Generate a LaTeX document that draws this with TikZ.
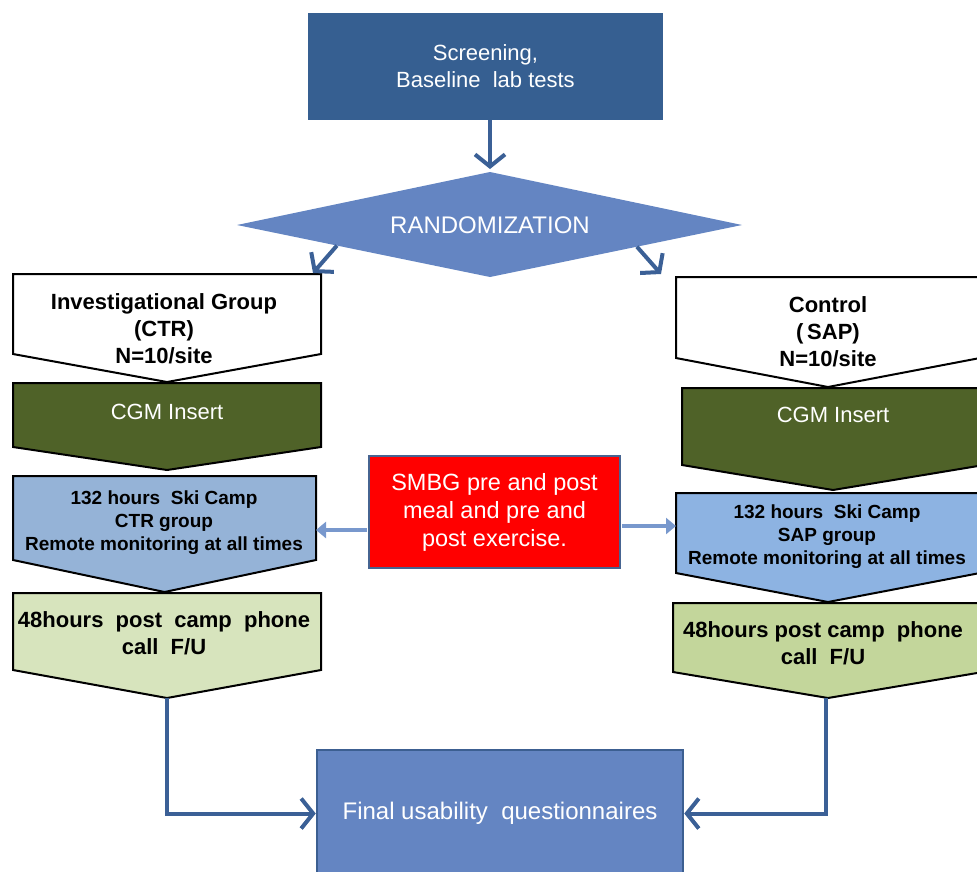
\documentclass[tikz,border=0pt]{standalone}
\usepackage{fontspec}
\setmainfont{Liberation Sans}
\usetikzlibrary{arrows.meta,calc}
\definecolor{topblue}{RGB}{54,95,145}
\definecolor{midblue}{RGB}{100,133,194}
\definecolor{edgeblue}{RGB}{60,95,145}
\definecolor{arrowblue}{RGB}{59,96,150}
\definecolor{thinblue}{RGB}{120,152,205}
\definecolor{olive}{RGB}{79,98,40}
\definecolor{campL}{RGB}{149,179,215}
\definecolor{campR}{RGB}{141,179,226}
\definecolor{greenL}{RGB}{215,228,189}
\definecolor{greenR}{RGB}{195,214,155}
\definecolor{redbox}{RGB}{255,0,0}
\definecolor{rededge}{RGB}{70,100,145}
\tikzset{
  chev/.style={draw=black, line width=2pt, line join=miter},
  bigtxt/.style={align=center, inner sep=0pt, font=\fontsize{22}{27}\selectfont},
  boldtxt/.style={align=center, inner sep=0pt, text=black, font=\fontsize{22}{27}\selectfont\bfseries},
  camptxt/.style={align=center, inner sep=0pt, text=black, font=\fontsize{19}{23}\selectfont\bfseries},
  conn/.style={draw=arrowblue, line width=4pt, -{Straight Barb[length=12pt,width=30pt]}},
  thinconn/.style={draw=thinblue, line width=4pt, -{Triangle[length=10pt,width=16pt]}}
}
% name, x1, x2, top, rectangle bottom, tip, fill
\newcommand\chevshape[7]{%
  \draw[chev, fill=#7] (#2,#4) -- (#3,#4) -- (#3,#5) -- ({(#2+#3)/2},#6) -- (#2,#5) -- cycle;
  \coordinate (#1-tip) at ({(#2+#3)/2},#6);
  \coordinate (#1-e) at (#3,{(#4+#5)/2});
  \coordinate (#1-w) at (#2,{(#4+#5)/2});
  \coordinate (#1-ne) at (#3,#4);
  \coordinate (#1-nw) at (#2,#4);
}
\begin{document}
\begin{tikzpicture}[x=1pt,y=-1pt]
\useasboundingbox (0,0) rectangle (977,871);

% top box
\node[bigtxt, fill=topblue, text=white, minimum width=355pt, minimum height=107pt] (screen) at (485.5,66.5)
  {Screening,\\Baseline\ \ lab tests};

% diamond
\coordinate (rand-w) at (237,225);
\coordinate (rand-n) at (490,172);
\coordinate (rand-e) at (742,225);
\coordinate (rand-s) at (490,277);
\fill[midblue] (rand-w) -- (rand-n) -- (rand-e) -- (rand-s) -- cycle;
\node[bigtxt, text=white, font=\fontsize{24}{28}\selectfont] (rand) at (490,225) {RANDOMIZATION};

\draw[conn, shorten >=3pt] (screen.south -| rand-n) -- (rand-n);

% left column
\chevshape{inv}{13}{321}{274}{354}{382}{white}
\node[boldtxt] (invt) at (164,329) {Investigational Group\\(CTR)\\N=10/site};
\chevshape{cgmL}{13}{321}{383}{447}{470}{olive}
\node[bigtxt, text=white] (cgmLt) at (167,412) {CGM Insert};
\chevshape{campL}{13}{316}{476}{560}{592}{campL}
\node[camptxt] (campLt) at (164,523) {132 hours\ \ Ski Camp\\CTR group\\Remote monitoring at all times};
\chevshape{phoneL}{13}{321}{593}{670}{698}{greenL}
\node[boldtxt] (phoneLt) at (164,633) {48hours\ \ post\ \ camp\ \ phone\\call\ \ F/U};

% right column
\chevshape{ctl}{676}{980}{277}{358}{387}{white}
\node[boldtxt] (ctlt) at (828,332) {Control\\(\,SAP)\\N=10/site};
\chevshape{cgmR}{682}{984}{388}{465}{490}{olive}
\node[bigtxt, text=white] (cgmRt) at (833,415) {CGM Insert};
\chevshape{campR}{676}{980}{493}{573}{602}{campR}
\node[camptxt] (campRt) at (827,537) {132 hours\ \ Ski Camp\\SAP group\\Remote monitoring at all times};
\chevshape{phoneR}{673}{983}{603}{672}{698}{greenR}
\node[boldtxt] (phoneRt) at (823,643) {48hours post camp\ \ phone\\call\ \ F/U};

% diamond to groups
\coordinate (invarr) at (313,273);
\coordinate (ctlarr) at (661,274);
\draw[conn] ($(rand-w)!0.395!(rand-s)$) -- (invarr);
\draw[conn] ($(rand-e)!0.417!(rand-s)$) -- (ctlarr);

% red box
\node[bigtxt, font=\fontsize{23.5}{28}\selectfont, fill=redbox, draw=rededge, line width=2pt, text=white, minimum width=251pt, minimum height=112pt] (red) at (494.5,512)
  {SMBG pre and post\\meal and pre and\\post exercise.};
\coordinate (redl) at ($(red.west)+(-1,18)$);
\coordinate (redr) at ($(red.east)+(1,14)$);
\draw[thinconn] (redl) -- (redl -| campL-e);
\draw[thinconn] (redr) -- (redr -| campR-w);

% final box
\node[bigtxt, font=\fontsize{24}{28}\selectfont, fill=midblue, draw=edgeblue, line width=2.5pt, text=white, minimum width=366pt, minimum height=127pt] (final) at (500,813.5)
  {Final usability\ \ questionnaires};
\draw[conn] (phoneL-tip) |- (final.west);
\draw[conn] ([xshift=-2pt]phoneR-tip) |- (final.east);
\end{tikzpicture}
\end{document}
